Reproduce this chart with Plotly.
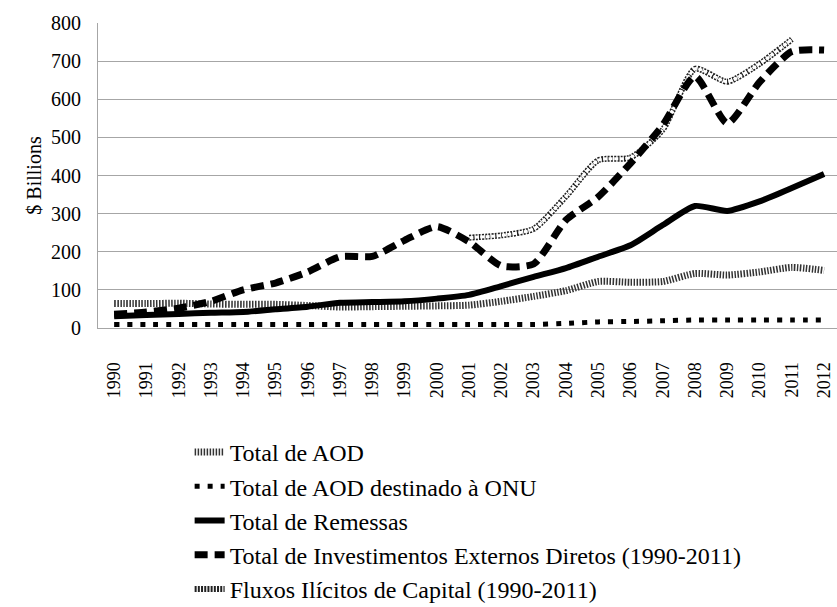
import plotly.graph_objects as go

years = list(range(1990, 2013))
year_labels = [str(y) for y in years]

aod_total = [64, 64, 65, 63, 62, 62, 59, 55, 56, 57, 58, 60, 70, 83, 98, 122, 120, 122, 143, 139, 147, 159, 151]
aod_onu = [9, 9, 9, 9, 9, 9, 9, 9, 9, 9, 9, 9, 9, 9, 12, 16, 17, 19, 21, 21, 21, 21, 21]
remessas = [31, 34, 37, 40, 42, 49, 56, 66, 68, 70, 77, 87, 110, 134, 157, 187, 217, 270, 320, 307, 332, 367, 404]
fdi = [36, 42, 52, 70, 100, 118, 147, 187, 188, 230, 266, 226, 163, 168, 283, 344, 432, 532, 660, 537, 645, 725, 729]
fluxos_years = list(range(2001, 2012))
fluxos = [237, 243, 260, 345, 440, 447, 520, 680, 646, 693, 757]

names = [
    "Total de AOD",
    "Total de AOD destinado à ONU",
    "Total de Remessas",
    "Total de Investimentos Externos Diretos (1990-2011)",
    "Fluxos Ilícitos de Capital (1990-2011)",
]

FONT = "'Liberation Serif', 'Times New Roman', Times, serif"
SMOOTH = 0.6

fig = go.Figure()

fig.add_trace(go.Scatter(
    x=years, y=aod_total, name=names[0], mode="lines", legendrank=1,
    line=dict(color="#333333", width=7, dash="1.5px,1.5px", shape="spline", smoothing=SMOOTH),
))
fig.add_trace(go.Scatter(
    x=years, y=aod_onu, name=names[1], mode="lines", legendrank=2,
    line=dict(color="black", width=5, dash="5px,8px", shape="spline", smoothing=SMOOTH),
))
fig.add_trace(go.Scatter(
    x=years, y=remessas, name=names[2], mode="lines", legendrank=3,
    line=dict(color="black", width=6, shape="spline", smoothing=SMOOTH),
))
fig.add_trace(go.Scatter(
    x=fluxos_years, y=fluxos, name=names[4], mode="lines", legendrank=5,
    legendgroup="fluxos",
    line=dict(color="#222222", width=6, dash="2px,1.2px", shape="spline", smoothing=SMOOTH),
))
fig.add_trace(go.Scatter(
    x=fluxos_years, y=fluxos, name=names[4], mode="lines", showlegend=False,
    legendgroup="fluxos", hoverinfo="skip",
    line=dict(color="white", width=3, dash="4px,1.5px", shape="spline", smoothing=SMOOTH),
))
fig.add_trace(go.Scatter(
    x=years, y=fdi, name=names[3], mode="lines", legendrank=4,
    line=dict(color="black", width=7, dash="13px,7px", shape="spline", smoothing=SMOOTH),
))

fig.update_layout(
    width=837, height=607,
    margin=dict(l=98, r=0, t=23, b=279, autoexpand=False),
    paper_bgcolor="white", plot_bgcolor="white",
    font=dict(family=FONT, size=20, color="black"),
    showlegend=True,
    legend=dict(
        x=0.124, xanchor="left", y=1 - 430 / 607, yref="container", yanchor="top",
        font=dict(family=FONT, size=24, color="black"),
        bgcolor="rgba(0,0,0,0)", tracegroupgap=0, itemwidth=30,
    ),
    xaxis=dict(
        range=[1989.5, 2012.4], automargin=False,
        tickmode="array", tickvals=years, ticktext=year_labels,
        tickangle=-90, showgrid=False, zeroline=False,
        showline=True, linecolor="#a6a6a6", linewidth=1,
        ticks="", tickfont=dict(family=FONT, size=18),
        ticklabelstandoff=26,
    ),
    yaxis=dict(
        range=[0, 800], tickmode="linear", tick0=0, dtick=100, automargin=False,
        showgrid=True, gridcolor="#a6a6a6", gridwidth=1,
        zeroline=False, showline=True, linecolor="#a6a6a6", linewidth=1,
        ticks="", tickfont=dict(family=FONT, size=20),
        ticklabelstandoff=12,
        title=dict(text="$ Billions", font=dict(family=FONT, size=20), standoff=4),
    ),
)

fig.write_html(
    "out.html",
    config={"displayModeBar": False},
    post_script="document.body.style.margin='0';document.body.style.overflow='hidden';",
)
